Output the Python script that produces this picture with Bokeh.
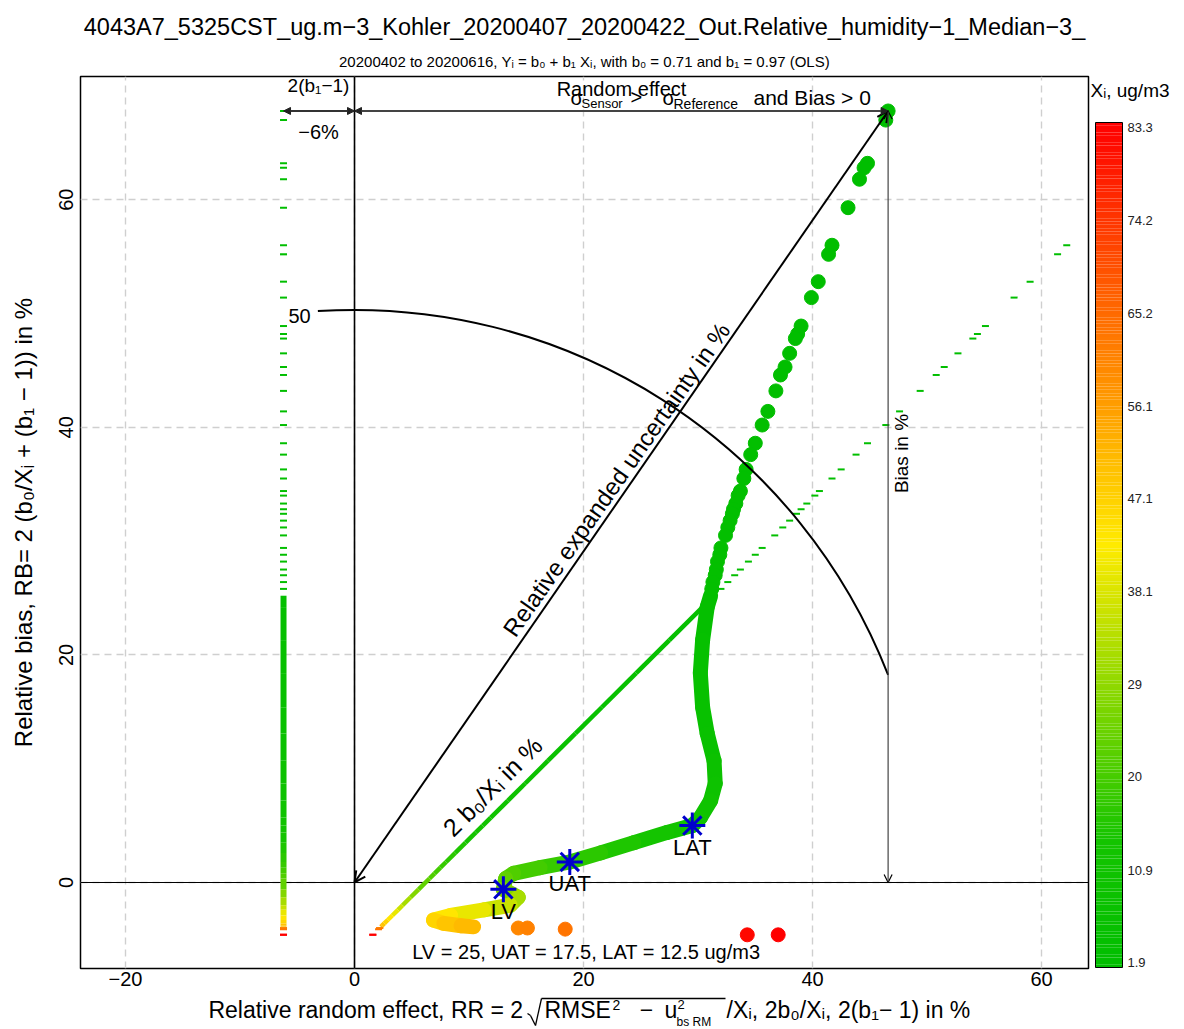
import math
import numpy as np
from bokeh.plotting import figure
from bokeh.layouts import gridplot
from bokeh.models import (ColumnDataSource, Label, Arrow, OpenHead, NormalHead, Span, Range1d,
                          FixedTicker, Title)
from bokeh.core.properties import value
from bokeh.transform import linear_cmap
from bokeh.embed import file_html
from bokeh.resources import INLINE

# ---------------- data ----------------
b0 = 0.71
b1 = 0.97
bias_pct = -6.2            # 2(b1 - 1) in %, position of the vertical column

# sparse points (low concentrations, upper part of the curve)
top_rr = [46.6, 46.4, 44.8, 44.5, 44.1, 43.1, 41.7, 41.4, 40.5, 39.9, 39.0, 38.7, 38.5, 38.0,
          37.6, 37.2, 36.8, 36.1, 35.6, 35.0, 34.6, 34.2, 34.0, 33.7, 33.5, 33.3, 33.1, 33.0,
          32.8, 32.6, 32.4, 32.0, 31.9, 31.7, 31.6, 31.5, 31.3, 31.2]
top_rb = [67.8, 67.0, 63.2, 62.8, 61.8, 59.3, 56.0, 55.2, 52.8, 51.4, 48.9, 48.2, 47.8, 46.5,
          45.3, 44.6, 43.2, 41.4, 40.2, 38.6, 37.6, 36.3, 35.5, 34.4, 34.0, 33.3, 32.8, 32.4,
          31.8, 31.2, 30.5, 29.4, 28.8, 28.2, 27.5, 27.0, 26.4, 25.8]
top_xi = [1.9, 1.95, 2.05, 2.06, 2.09, 2.17, 2.29, 2.32, 2.41, 2.47, 2.58, 2.62, 2.63, 2.70,
          2.76, 2.80, 2.88, 2.99, 3.07, 3.18, 3.25, 3.35, 3.41, 3.51, 3.54, 3.60, 3.65, 3.69,
          3.75, 3.81, 3.88, 4.00, 4.07, 4.14, 4.23, 4.29, 4.37, 4.45]

# dense band of points (continuous trace)
band_rr = [31.1, 30.8, 30.4, 30.2, 30.4, 30.8, 31.4, 31.5, 31.1, 30.2, 29.5, 27.3, 24.4, 21.5,
           18.8, 16.2, 13.9, 13.2, 13.0, 14.3, 13.6, 11.3, 8.4, 6.9, 7.8, 9.3, 10.4]
band_rb = [25.2, 24.2, 21.3, 18.4, 15.4, 13.1, 10.7, 8.7, 7.2, 5.7, 5.0, 4.4, 3.5, 2.6,
           1.8, 1.3, 0.8, 0.35, -0.6, -1.3, -2.0, -2.4, -2.9, -3.3, -3.6, -3.8, -3.9]
band_xi = [4.54, 4.69, 5.18, 5.80, 6.60, 7.40, 8.45, 9.6, 10.7, 12.0, 12.5, 13.5, 14.8, 16.3,
           17.5, 19.2, 20.6, 22.0, 25.0, 30.0, 34.0, 38.0, 42.0, 45.0, 48.0, 50.0, 52.0]

# isolated points at high concentrations
high_rr = [14.3, 15.1, 18.4, 34.3, 37.0]
high_rb = [-4.0, -4.0, -4.1, -4.6, -4.6]
high_xi = [60.0, 61.0, 63.0, 82.0, 83.3]

# limit values
limit_names = ["LV", "UAT", "LAT"]
limit_xi = [25, 17.5, 12.5]
limit_rr = [13.0, 18.8, 29.5]
limit_rb = [-0.6, 1.8, 5.0]

x_ticks = [-20, 0, 20, 40, 60]
y_ticks = [0, 20, 40, 60]
cb_ticks = [1.9, 10.9, 20, 29, 38.1, 47.1, 56.1, 65.2, 74.2, 83.3]
xi_low, xi_high = 1.9, 83.3

# ---------------- layout (page pixels) ----------------
FONT = "Liberation Sans"
PAGE_W, PAGE_H = 1184, 1029
FL, FR, FT, FB = 80, 1088, 76, 968   # frame edges on the page
MAIN_BOTTOM = 996                    # main figure ends here, x-label strip below
RB_PAD = 2                           # right border of the main figure
MAIN_W = FR + RB_PAD
CB_W = PAGE_W - MAIN_W
X0, X1 = -23.93, 64.10
Y0, Y1 = -7.56, 70.83
CB_TOP_PX, CB_BOT_PX = 122, 967      # colour scale extent on the page
CB_LAB_INSET = 5                     # labels sit slightly inside the scale ends


def dx(px):
    return X0 + (px - FL) * (X1 - X0) / (FR - FL)


def dy(py):
    return Y0 + (FB - py) * (Y1 - Y0) / (FB - FT)


def build_palette(n=256):
    stops = [(0.0, (0, 190, 0)), (0.15, (20, 196, 0)), (0.5, (255, 235, 0)), (1.0, (255, 0, 0))]
    out = []
    for i in range(n):
        t = i / (n - 1)
        for (t0, c0), (t1, c1) in zip(stops[:-1], stops[1:]):
            if t <= t1 + 1e-9:
                f = (t - t0) / (t1 - t0)
                rgb = [int(round(a + (b - a) * f)) for a, b in zip(c0, c1)]
                break
        out.append("#%02x%02x%02x" % tuple(rgb))
    return out


pal = build_palette()
cmap = linear_cmap("xi", pal, xi_low, xi_high)

p = figure(width=MAIN_W, height=MAIN_BOTTOM, x_range=(X0, X1), y_range=(Y0, Y1),
           output_backend="svg", toolbar_location=None, title=None,
           min_border_left=FL, min_border_right=RB_PAD,
           min_border_top=FT, min_border_bottom=MAIN_BOTTOM - FB)
p.background_fill_color = "white"
p.border_fill_color = "white"
p.outline_line_color = "black"
p.outline_line_width = 1.5

for ax, ticks in ((p.xaxis, x_ticks), (p.yaxis, y_ticks)):
    ax.ticker = FixedTicker(ticks=ticks)
    ax.axis_line_color = None
    ax.major_tick_line_color = None
    ax.minor_tick_line_color = None
    ax.major_tick_out = 0
    ax.major_tick_in = 0
    ax.major_label_text_font = FONT
    ax.major_label_text_font_size = "20px"
    ax.major_label_text_color = "black"
p.xaxis.major_label_standoff = 3
p.yaxis.major_label_standoff = 7
p.yaxis.major_label_orientation = "vertical"
p.yaxis.axis_label = "Relative bias, RB= 2 (b\u2080/X\u1d62 + (b\u2081 \u2212 1)) in %"
p.yaxis.axis_label_text_font = FONT
p.yaxis.axis_label_text_font_size = "24px"
p.yaxis.axis_label_text_font_style = "normal"
p.yaxis.axis_label_text_color = "black"
p.yaxis.axis_label_standoff = 20

for g in (p.xgrid, p.ygrid):
    g.grid_line_color = "#cfcfcf"
    g.grid_line_dash = "7 5"
    g.grid_line_width = 1.4

# titles (first added sits closest to the frame)
p.add_layout(Title(text="20200402 to 20200616, Y\u1d62 = b\u2080 + b\u2081 X\u1d62, with b\u2080 = %.2f and b\u2081 = %.2f (OLS)" % (b0, b1),
                   align="center", text_font=FONT, text_font_size="15px", text_font_style="normal",
                   text_color="black", standoff=13), "above")
p.add_layout(Title(text="4043A7_5325CST_ug.m\u22123_Kohler_20200407_20200422_Out.Relative_humidity\u22121_Median\u22123_",
                   align="center", text_font=FONT, text_font_size="23.5px", text_font_style="normal",
                   text_color="black", standoff=10), "above")

p.add_layout(Span(location=0, dimension="height", line_color="black", line_width=1.6, level="underlay"))
p.add_layout(Span(location=0, dimension="width", line_color="black", line_width=1.1, level="underlay"))

# ---- diagonal (2 b0/Xi) and column (2(b1-1)) from the dense band ----
seg_xi = [(a + b) / 2 for a, b in zip(band_xi[:-1], band_xi[1:])]
diag_src = ColumnDataSource(dict(
    x0=[r - bias_pct for r in band_rb[:-1]], y0=band_rb[:-1],
    x1=[r - bias_pct for r in band_rb[1:]], y1=band_rb[1:], xi=seg_xi))
p.segment("x0", "y0", "x1", "y1", source=diag_src, line_color=cmap, line_width=4.5)

col_src = ColumnDataSource(dict(
    x0=[bias_pct] * (len(band_rb) - 1), y0=band_rb[:-1],
    x1=[bias_pct] * (len(band_rb) - 1), y1=band_rb[1:], xi=seg_xi))
p.segment("x0", "y0", "x1", "y1", source=col_src, line_color=cmap, line_width=6)

sp_rb = top_rb + high_rb
sp_xi = top_xi + high_xi
dash_src = ColumnDataSource(dict(
    xc=[bias_pct] * len(sp_rb), xd=[r - bias_pct for r in sp_rb], y=sp_rb, xi=sp_xi))
p.scatter("xc", "y", source=dash_src, marker="dash", size=7, line_color=cmap, line_width=2)
p.scatter("xd", "y", source=dash_src, marker="dash", size=7, line_color=cmap, line_width=2)

# ---- main trace ----
band_src = ColumnDataSource(dict(x0=band_rr[:-1], y0=band_rb[:-1], x1=band_rr[1:], y1=band_rb[1:], xi=seg_xi))
p.segment("x0", "y0", "x1", "y1", source=band_src, line_color=cmap, line_width=15, line_cap="round")

pts_src = ColumnDataSource(dict(x=top_rr + high_rr, y=top_rb + high_rb, xi=top_xi + high_xi))
p.scatter("x", "y", source=pts_src, size=14, fill_color=cmap, line_color=cmap)

# ---- arc of radius 50 ----
top_x, top_y = top_rr[0], top_rb[0]
arc_r = 50
arc_left = -3.2
p.arc(x=[0], y=[0], radius=arc_r,
      start_angle=math.acos(top_x / arc_r), end_angle=math.acos(arc_left / arc_r),
      line_color="black", line_width=2)

# ---- limit value stars ----
p.scatter(limit_rr, limit_rb, marker="asterisk", size=26, line_color="#0000CD", line_width=3)

# ---- arrows ----
p.add_layout(Arrow(x_start=0, y_start=0, x_end=top_x, y_end=top_y, line_width=2, line_color="black",
                   start=OpenHead(size=11, line_width=2), end=OpenHead(size=11, line_width=2)))
for xa, xb, col in ((bias_pct, 0, "#333333"), (0, top_x, "#444444")):
    p.add_layout(Arrow(x_start=xa, y_start=top_y, x_end=xb, y_end=top_y, line_width=2, line_color=col,
                       start=NormalHead(size=7, fill_color="#222222", line_color="#222222"),
                       end=NormalHead(size=7, fill_color="#222222", line_color="#222222")))
p.add_layout(Arrow(x_start=top_x, y_start=top_y, x_end=top_x, y_end=0, line_width=1.2, line_color="#444444",
                   start=OpenHead(size=8, line_width=1.2), end=OpenHead(size=8, line_width=1.2)))


def lab(fig, text, x, y, size, align="center", angle=0.0, color="black"):
    # y is the vertical centre of the text
    fig.add_layout(Label(x=x, y=y, text=text, text_font=FONT, text_font_size=f"{size}px",
                         text_align=align, text_baseline="middle", angle=angle, text_color=color))


def labm(text, px, py, size, align="center", angle=0.0):
    lab(p, text, dx(px), dy(py), size, align, angle)


labm("Random effect", 621, 88.5, 20)
labm("\u03c3", 570, 97, 20, "left")
labm("Sensor", 581, 103, 13, "left")
labm(">", 630, 96, 20, "left")
labm("\u03c3", 662, 97, 20, "left")
labm("Reference", 673, 103, 14, "left")
labm("and  Bias > 0", 753, 96.5, 21, "left")
labm("2(b\u2081\u22121)", 318, 85, 19)
labm("\u2212%d%%" % round(-bias_pct), 318, 131, 20)
labm("%d" % arc_r, 299, 315.5, 20)
labm("Relative expanded uncertainty in %", 616, 479, 24, angle=math.radians(55))
labm("2 b\u2080/X\u1d62 in %", 492, 786, 25, angle=math.radians(45))
labm("Bias in %", 901, 453, 19, angle=math.pi / 2)

for n, r, b in zip(limit_names, limit_rr, limit_rb):
    lab(p, n, r, b - 22 / 11.38, 22)

labm(", ".join("%s = %g" % (n, v) for n, v in zip(limit_names, limit_xi)) + " ug/m3", 586, 951.5, 20)

# ---------------- colour scale (own figure, frame aligned with the main frame) ----------------
xi_per_px = (xi_high - xi_low) / (CB_BOT_PX - CB_TOP_PX)
cb_y0 = xi_low - (FB - CB_BOT_PX) * xi_per_px
cb_y1 = xi_high + (CB_TOP_PX - FT) * xi_per_px
cbf = figure(width=CB_W, height=MAIN_BOTTOM, x_range=(MAIN_W, PAGE_W), y_range=(cb_y0, cb_y1),
             x_axis_type=None, y_axis_type=None, output_backend="svg", toolbar_location=None,
             title=None, min_border_left=0, min_border_right=0,
             min_border_top=FT, min_border_bottom=MAIN_BOTTOM - FB)
cbf.outline_line_color = None
cbf.background_fill_color = "white"
cbf.border_fill_color = "white"
edges = np.linspace(xi_low, xi_high, len(pal) + 1)
bar_l, bar_r = 1095, 1122
cbf.quad(left=bar_l, right=bar_r, bottom=edges[:-1], top=edges[1:], fill_color=pal, line_color=None)
cbf.quad(left=bar_l, right=bar_r, bottom=xi_low, top=xi_high, fill_color=None, line_color="black", line_width=1)
span_lab = (CB_BOT_PX - CB_TOP_PX - 2 * CB_LAB_INSET) / (CB_BOT_PX - CB_TOP_PX)
lab_y = [xi_low + CB_LAB_INSET * xi_per_px + (t - xi_low) * span_lab for t in cb_ticks]
cbf.text(x=[bar_r + 5] * len(cb_ticks), y=lab_y, text=["%g" % t for t in cb_ticks],
         text_font=value(FONT), text_font_size="13px", text_align="left",
         text_baseline="middle", text_color="#222222")
lab(cbf, "X\u1d62, ug/m3", 1090, xi_high + (CB_TOP_PX - 90) * xi_per_px, 19, "left")

# ---------------- x-axis label strip (with square root) ----------------
bot = figure(width=MAIN_W, height=PAGE_H - MAIN_BOTTOM, x_range=(FL, FR),
             y_range=Range1d(PAGE_H, MAIN_BOTTOM), x_axis_type=None, y_axis_type=None,
             output_backend="svg", toolbar_location=None, title=None,
             min_border_left=FL, min_border_right=RB_PAD, min_border_top=0, min_border_bottom=0)
bot.outline_line_color = None
bot.background_fill_color = "white"
bot.border_fill_color = "white"
C = 1009          # centre line of the label
lab(bot, "Relative random effect, RR =  2", 529, C, 23, "right")
for (xa, ya, xb, yb) in ((527, 1013, 530, 1015), (530, 1015, 535, 1025), (535, 1025, 541, 998),
                         (541, 998, 725, 998)):
    bot.add_layout(Arrow(x_start=xa, y_start=ya, x_end=xb, y_end=yb,
                         start=None, end=None, line_color="black", line_width=1.3))
lab(bot, "RMSE", 544, C, 23, "left")
lab(bot, "2", 612, 1004, 14, "left")
lab(bot, "\u2212", 646, C, 23, "center")
lab(bot, "u", 664, C, 23, "left")
lab(bot, "2", 677, 1004, 13, "left")
lab(bot, "bs  RM", 676, 1021, 12, "left")
lab(bot, "/X\u1d62, 2b\u2080/X\u1d62, 2(b\u2081\u2212 1) in %", 726, C, 23, "left")

grid = gridplot([[p, cbf], [bot, None]], toolbar_location=None)
open("out.html", "w").write(file_html(grid, INLINE))
